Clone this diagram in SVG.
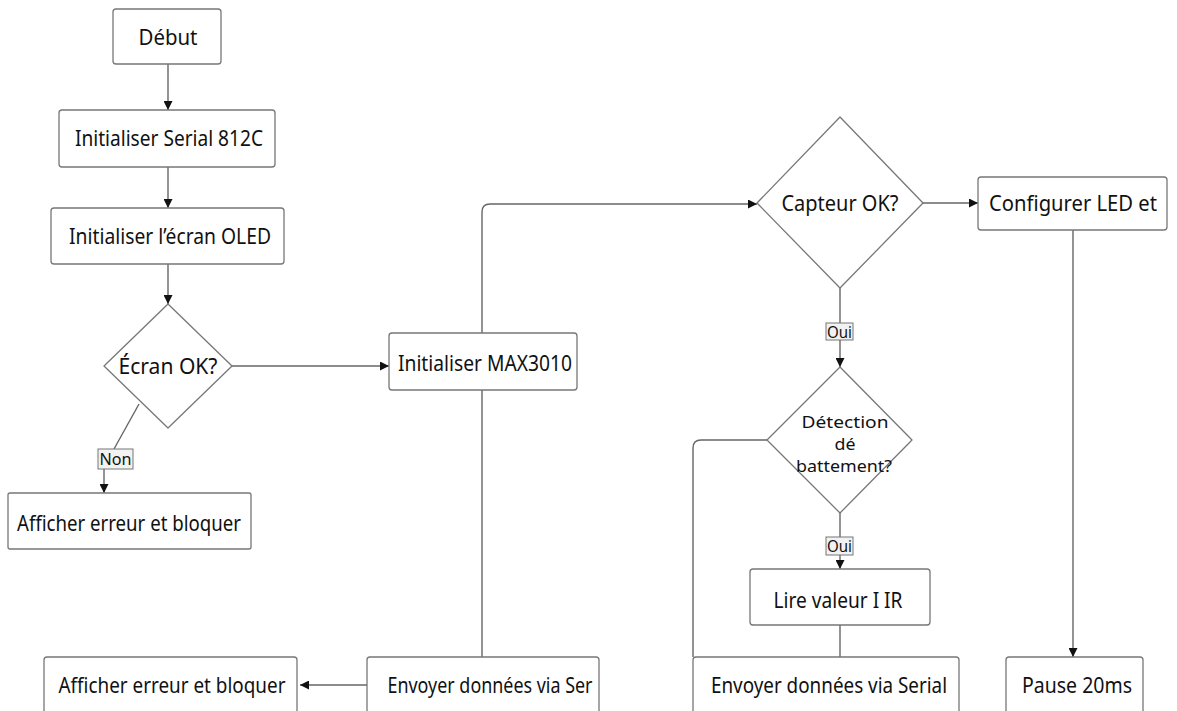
<svg xmlns="http://www.w3.org/2000/svg" width="1177" height="711" viewBox="0 0 1177 711">
<defs>
<marker id="ah" viewBox="0 0 10 10" refX="10" refY="5" markerWidth="9" markerHeight="9" markerUnits="userSpaceOnUse" orient="auto">
<path d="M0,0 L10,5 L0,10 z" fill="#111"/>
</marker>
<style>
.box{fill:#fff;stroke:#777;stroke-width:1.3}
.dia{fill:#fff;stroke:#777;stroke-width:1.3;stroke-linejoin:round}
.t{font-family:"Noto Sans","Open Sans",sans-serif;font-size:21px;fill:#111;text-anchor:middle}
.td{font-family:"Noto Sans","Open Sans",sans-serif;font-size:16px;fill:#111;text-anchor:middle}
.lbl{font-family:"Noto Sans","Open Sans",sans-serif;font-size:16px;fill:#111;text-anchor:middle}
.lb{fill:#f2f2f2;stroke:#777;stroke-width:1}
.c{fill:none;stroke:#666;stroke-width:1.4}
.a{marker-end:url(#ah)}
</style>
</defs>
<rect width="1177" height="711" fill="#fff"/>
<g id="connectors">
<path class="c a" d="M168,64 L168,110"/>
<path class="c a" d="M168,167 L168,208"/>
<path class="c a" d="M168,264 L168,304"/>
<path class="c" d="M139,404 L114,449"/>
<path class="c a" d="M104,469 L104,493"/>
<path class="c a" d="M232,366 L389,366"/>
<path class="c a" d="M482,333 L482,212 Q482,204 490,204 L757,204"/>
<path class="c" d="M482,390 L482,657"/>
<path class="c a" d="M367,685 L300,685"/>
<path class="c a" d="M923,203 L978,203"/>
<path class="c a" d="M1073,230 L1073,657"/>
<path class="c" d="M840,288 L840,323"/>
<path class="c a" d="M840,340 L840,367"/>
<path class="c" d="M767,440 L701,440 Q693,440 693,448 L693,657"/>
<path class="c" d="M840,513 L840,537"/>
<path class="c a" d="M840,555 L840,569"/>
<path class="c" d="M840,625 L840,657"/>
<g id="label-non"><rect class="lb" x="98" y="449" width="35" height="20"/><text class="lbl" x="115.5" y="465" textLength="32" lengthAdjust="spacingAndGlyphs">Non</text></g>
<g id="label-oui1"><rect class="lb" x="826" y="323" width="27" height="17"/><text class="lbl" x="839.5" y="337.5" textLength="25" lengthAdjust="spacingAndGlyphs">Oui</text></g>
<g id="label-oui2"><rect class="lb" x="826" y="537" width="27" height="18"/><text class="lbl" x="839.5" y="552" textLength="25" lengthAdjust="spacingAndGlyphs">Oui</text></g>
</g>
<g id="debut"><rect class="box" x="113" y="9" width="108" height="55" rx="3"/><text class="t" x="168" y="45" textLength="59" lengthAdjust="spacingAndGlyphs">Début</text></g>
<g id="init-serial"><rect class="box" x="59" y="110" width="216" height="57" rx="3"/><text class="t" x="169" y="146" textLength="188" lengthAdjust="spacingAndGlyphs">Initialiser Serial 812C</text></g>
<g id="init-oled"><rect class="box" x="51" y="208" width="233" height="56" rx="3"/><text class="t" x="170" y="244" textLength="202" lengthAdjust="spacingAndGlyphs">Initialiser l’écran OLED</text></g>
<g id="ecran-ok"><polygon class="dia" points="168,304 232,366 168,428 104,366"/><text class="t" x="168" y="374" textLength="99" lengthAdjust="spacingAndGlyphs">Écran OK?</text></g>
<g id="erreur1"><rect class="box" x="8" y="493" width="243" height="56" rx="2"/><text class="t" x="129" y="531" textLength="224" lengthAdjust="spacingAndGlyphs">Afficher erreur et bloquer</text></g>
<g id="init-max"><rect class="box" x="389" y="333" width="188" height="57" rx="3"/><text class="t" x="485" y="371" textLength="174" lengthAdjust="spacingAndGlyphs">Initialiser MAX3010</text></g>
<g id="capteur-ok"><polygon class="dia" points="840,117 923,203 840,288 757,203"/><text class="t" x="840" y="211" textLength="117" lengthAdjust="spacingAndGlyphs">Capteur OK?</text></g>
<g id="config-led"><rect class="box" x="978" y="177" width="189" height="53" rx="3"/><text class="t" x="1073" y="211" textLength="168" lengthAdjust="spacingAndGlyphs">Configurer LED et</text></g>
<g id="detection"><polygon class="dia" points="840,367 912,440 840,513 767,440"/><text class="td"><tspan x="845" y="428" textLength="87" lengthAdjust="spacingAndGlyphs">Détection</tspan><tspan x="845" y="450" textLength="21" lengthAdjust="spacingAndGlyphs">dé</tspan><tspan x="844" y="472" textLength="96" lengthAdjust="spacingAndGlyphs">battement?</tspan></text></g>
<g id="lire-ir"><rect class="box" x="750" y="569" width="180" height="56" rx="3"/><text class="t" x="838" y="608" textLength="129" lengthAdjust="spacingAndGlyphs">Lire valeur I IR</text></g>
<g id="erreur2"><rect class="box" x="44" y="657" width="253" height="70" rx="3"/><text class="t" x="172" y="693" textLength="227" lengthAdjust="spacingAndGlyphs">Afficher erreur et bloquer</text></g>
<g id="envoyer1"><rect class="box" x="367" y="657" width="232" height="70" rx="3"/><text class="t" x="490" y="693" textLength="205" lengthAdjust="spacingAndGlyphs">Envoyer données via Ser</text></g>
<g id="envoyer2"><rect class="box" x="693" y="657" width="266" height="70" rx="3"/><text class="t" x="829" y="693" textLength="236" lengthAdjust="spacingAndGlyphs">Envoyer données via Serial</text></g>
<g id="pause"><rect class="box" x="1006" y="657" width="137" height="70" rx="3"/><text class="t" x="1077" y="693" textLength="110" lengthAdjust="spacingAndGlyphs">Pause 20ms</text></g>
</svg>
